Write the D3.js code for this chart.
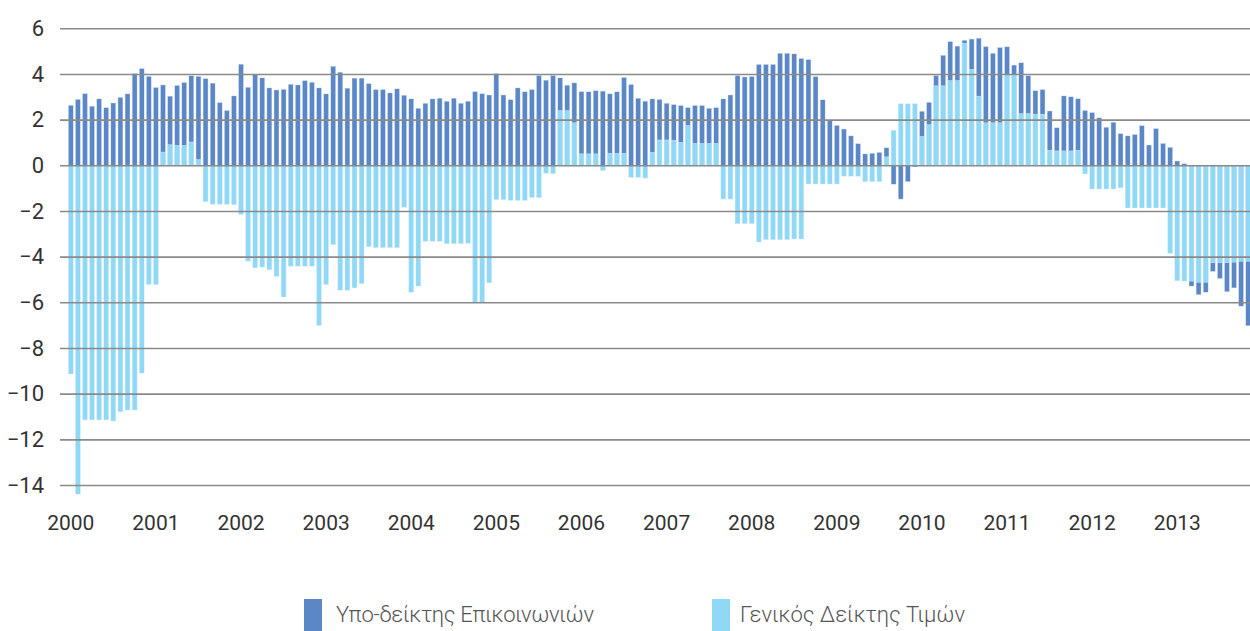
<!DOCTYPE html>
<html>
<head>
<meta charset="utf-8">
<script src="https://cdn.jsdelivr.net/npm/d3@7"></script>
<style>
  body { margin: 0; background: #fff; }
  text { font-family: Roboto, "Noto Sans", sans-serif; }
</style>
</head>
<body>
<div id="chart"></div>
<script>
// monthly values, Jan 2000 .. Nov 2013
let years = ["2000","2001","2002","2003","2004","2005","2006","2007","2008","2009","2010","2011","2012","2013"];
let yTicks = [6, 4, 2, 0, -2, -4, -6, -8, -10, -12, -14];

// Υπο-δείκτης Επικοινωνιών
let comms = [
  2.63, 2.89, 3.14, 2.59, 2.91, 2.53, 2.73, 2.98, 3.13, 4.02, 4.24, 3.90,
  3.41, 3.52, 3.03, 3.50, 3.63, 3.92, 3.90, 3.80, 3.60, 2.75, 2.40, 3.04,
  4.43, 3.42, 3.99, 3.83, 3.39, 3.30, 3.33, 3.55, 3.52, 3.71, 3.64, 3.39,
  3.13, 4.34, 4.08, 3.38, 3.82, 3.82, 3.58, 3.32, 3.32, 3.17, 3.35, 3.07,
  2.91, 2.50, 2.72, 2.91, 2.94, 2.81, 2.94, 2.72, 2.81, 3.23, 3.14, 3.08,
  4.02, 3.08, 2.88, 3.39, 3.22, 3.32, 3.93, 3.73, 3.93, 3.83, 3.51, 3.61,
  3.23, 3.22, 3.27, 3.25, 3.13, 3.22, 3.85, 3.54, 2.94, 2.81, 2.91, 2.89,
  2.72, 2.66, 2.62, 2.53, 2.62, 2.62, 2.50, 2.53, 2.91, 3.08, 3.93, 3.87,
  3.89, 4.42, 4.42, 4.42, 4.91, 4.91, 4.88, 4.68, 4.63, 3.89, 2.87, 1.96,
  1.75, 1.59, 1.29, 0.95, 0.50, 0.53, 0.57, 0.77, -0.83, -1.48, -0.72, -0.07,
  2.37, 2.76, 3.93, 4.82, 5.42, 5.22, 5.48, 5.53, 5.57, 5.20, 4.91, 5.16,
  5.19, 4.39, 4.49, 3.92, 3.27, 3.32, 2.38, 1.65, 3.04, 3.00, 2.92, 2.40,
  2.31, 2.08, 1.67, 1.89, 1.39, 1.29, 1.35, 1.74, 0.89, 1.61, 0.96, 0.79,
  0.19, 0.07, -5.29, -5.67, -5.56, -4.65, -4.96, -5.54, -5.37, -6.17, -7.03
];

// Γενικός Δείκτης Τιμών
let general = [
  -9.14, -14.4, -11.15, -11.15, -11.15, -11.15, -11.2, -10.8, -10.72, -10.72, -9.1, -5.23,
  -5.23, 0.58, 0.90, 0.88, 0.88, 1.02, 0.25, -1.60, -1.71, -1.71, -1.71, -1.73,
  -2.15, -4.20, -4.49, -4.46, -4.58, -4.87, -5.77, -4.42, -4.42, -4.42, -4.42, -7.02,
  -5.23, -3.48, -5.47, -5.47, -5.37, -5.19, -3.57, -3.61, -3.61, -3.61, -3.61, -1.84,
  -5.56, -5.29, -3.33, -3.33, -3.33, -3.44, -3.44, -3.44, -3.42, -6.02, -6.02, -5.15,
  -1.51, -1.51, -1.54, -1.54, -1.54, -1.42, -1.42, -0.35, -0.37, 2.40, 2.40, 1.86,
  0.50, 0.50, 0.50, -0.23, 0.53, 0.53, 0.53, -0.53, -0.53, -0.56, 0.57, 1.11,
  1.11, 1.10, 1.01, 1.75, 0.96, 0.96, 0.96, 0.96, -1.48, -1.48, -2.56, -2.56,
  -2.56, -3.36, -3.26, -3.26, -3.26, -3.26, -3.23, -3.23, -0.82, -0.82, -0.82, -0.82,
  -0.82, -0.48, -0.48, -0.48, -0.72, -0.72, -0.72, 0.37, 1.54, 2.70, 2.70, 2.70,
  1.27, 1.78, 3.48, 3.48, 3.71, 3.71, 5.35, 4.20, 3.03, 1.86, 1.86, 1.86,
  3.96, 3.96, 2.27, 2.27, 2.24, 2.24, 0.66, 0.63, 0.63, 0.63, 0.66, -0.38,
  -1.04, -1.04, -1.04, -1.04, -0.99, -1.87, -1.87, -1.87, -1.87, -1.87, -1.87, -3.86,
  -5.06, -5.07, -5.07, -5.12, -5.12, -4.27, -4.27, -4.27, -4.24, -4.20, -4.20
];

let legendLabels = ["Υπο-δείκτης Επικοινωνιών", "Γενικός Δείκτης Τιμών"];
let colors = ["#5b87c6", "#8fd9f6"];

let width = 1250, height = 631;
let nMonths = years.length * 12;

let svg = d3.select("#chart").append("svg")
    .attr("width", width)
    .attr("height", height);

let x = d3.scaleBand()
    .domain(d3.range(nMonths))
    .range([67.24, 67.24 + nMonths * 7.093])
    .paddingInner(0.3)
    .paddingOuter(0.15);

let y = d3.scaleLinear()
    .domain([-14, 6])
    .range([485, 28.3]);

let plot = svg.append("g");

function drawBars(values, color) {
    plot.append("g").selectAll("rect")
        .data(values)
        .enter()
        .append("rect")
        .attr("x", (d, i) => x(i))
        .attr("width", x.bandwidth())
        .attr("y", d => y(Math.max(0, d)))
        .attr("height", d => Math.abs(y(d) - y(0)))
        .attr("fill", color)
        .attr("stroke", "#e4eefa")
        .attr("stroke-width", 0.4);
}

drawBars(comms, colors[0]);
drawBars(general, colors[1]);

// gridlines + y labels
let yAxis = svg.append("g")
    .attr("transform", "translate(60,0)")
    .call(d3.axisLeft(y).tickValues(yTicks).tickSize(-(width - 60)).tickPadding(16));
yAxis.select(".domain").remove();
yAxis.selectAll("line").attr("stroke", "#8a8a8a").attr("stroke-width", 1.6);
yAxis.selectAll("text")
    .attr("fill", "#333")
    .style("font-size", "22px")
    .style("font-family", "Roboto, sans-serif");

// year labels at January of each year
let xAxis = svg.append("g")
    .attr("transform", "translate(0,512)")
    .call(d3.axisBottom(x)
        .tickValues(d3.range(0, nMonths, 12))
        .tickFormat(i => years[i / 12])
        .tickSize(0));
xAxis.select(".domain").remove();
xAxis.selectAll("text")
    .attr("fill", "#333")
    .style("font-size", "21px")
    .style("font-family", "Roboto, sans-serif");

// legend
let legendX = [304, 712];
let legendTextX = [336, 740];
let legendTextW = [258, 225];
let legend = svg.append("g");
legendLabels.forEach(function(lbl, k) {
    legend.append("rect")
        .attr("x", legendX[k])
        .attr("y", 599)
        .attr("width", 18)
        .attr("height", 32)
        .attr("fill", colors[k]);
    legend.append("text")
        .attr("x", legendTextX[k])
        .attr("y", 622)
        .attr("fill", "#555")
        .attr("textLength", legendTextW[k])
        .style("font-size", "22px")
        .style("font-weight", 300)
        .text(lbl);
});
</script>
</body>
</html>
